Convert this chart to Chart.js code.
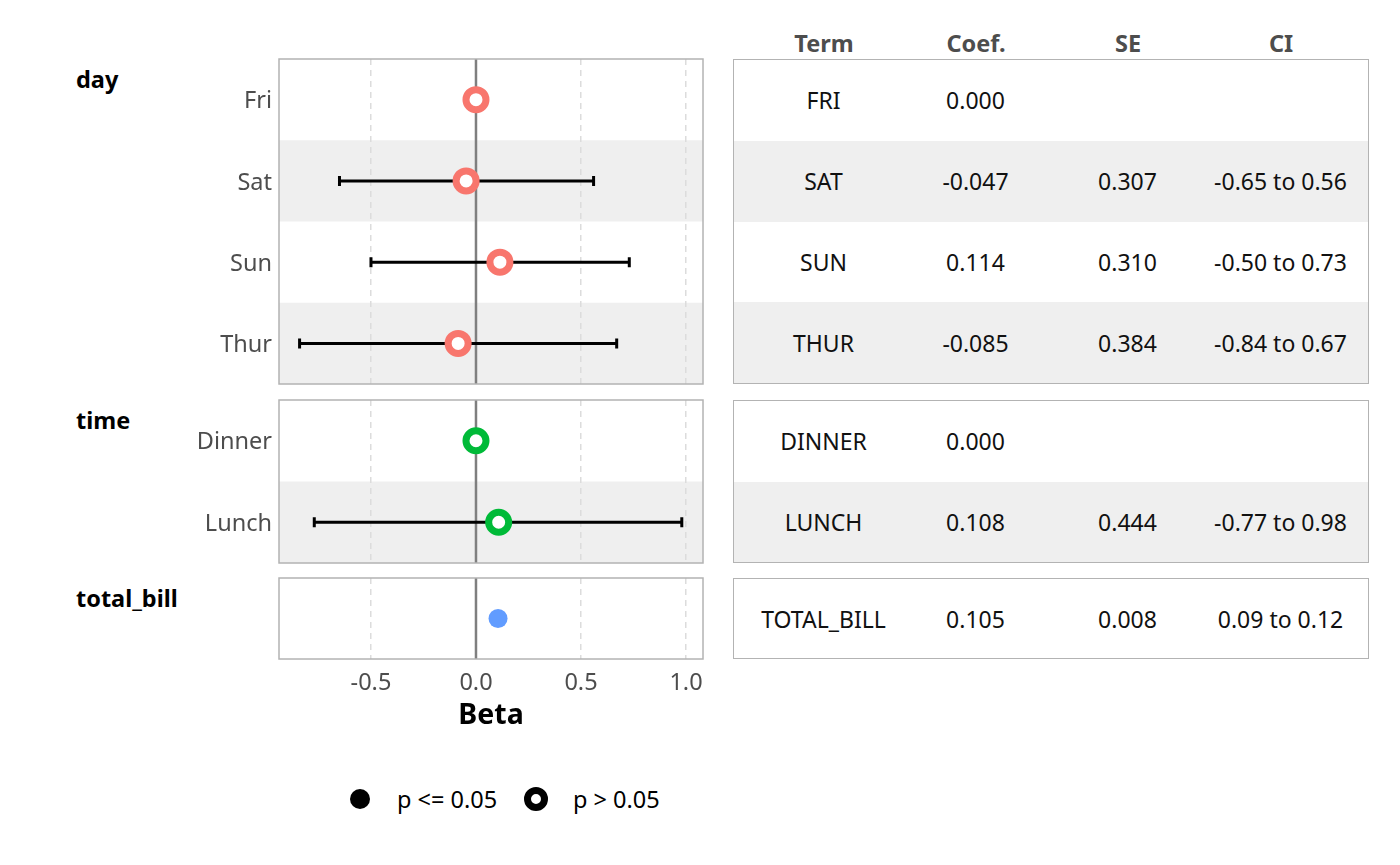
<!DOCTYPE html>
<html>
<head>
<meta charset="utf-8">
<script src="https://cdn.jsdelivr.net/npm/chart.js@4.4.1/dist/chart.umd.min.js"></script>
<style>
  body { margin: 0; background: #fff; font-family: "Noto Sans", sans-serif; }
  #wrap { position: relative; width: 1400px; height: 865px; overflow: hidden; }
  .abs { position: absolute; }
  .grp { font-weight: bold; font-size: 23.5px; line-height: 30px; color: #000; }
  .hdr { font-weight: bold; font-size: 23.5px; line-height: 30px; color: #4d4d4d; transform: translateX(-50%); white-space: nowrap; }
  .box { border: 1.5px solid #b3b3b3; box-sizing: border-box; display: flex; flex-direction: column; }
  .row { flex: 1; position: relative; }
  .row.alt { background: #efefef; }
  .cell { position: absolute; top: 50%; transform: translate(-50%, -50%); font-size: 23px; color: #111; white-space: nowrap; }
  .leg { font-size: 23.5px; line-height: 30px; color: #000; }
</style>
</head>
<body>
<div id="wrap"></div>
<script>
// --- data ---
const dayTerms = ['Fri', 'Sat', 'Sun', 'Thur'];
const dayCoef = [0.000, -0.047, 0.114, -0.085];
const daySE = [null, 0.307, 0.310, 0.384];
const dayLow = [null, -0.65, -0.50, -0.84];
const dayHigh = [null, 0.56, 0.73, 0.67];
const daySig = [false, false, false, false];

const timeTerms = ['Dinner', 'Lunch'];
const timeCoef = [0.000, 0.108];
const timeSE = [null, 0.444];
const timeLow = [null, -0.77];
const timeHigh = [null, 0.98];
const timeSig = [false, false];

const billTerms = ['total_bill'];
const billCoef = [0.105];
const billSE = [0.008];
const billLow = [0.09];
const billHigh = [0.12];
const billSig = [true];

const xTicks = [-0.5, 0.0, 0.5, 1.0];
const xMin = -0.938, xMax = 1.081;

const tableHeaders = ['Term', 'Coef.', 'SE', 'CI'];
const legendLabels = ['p <= 0.05', 'p > 0.05'];

// --- layout ---
const groups = [
  { name: 'day', terms: dayTerms, coef: dayCoef, se: daySE, low: dayLow, high: dayHigh, sig: daySig, color: '#F8766D', top: 59, h: 325, showTerms: true },
  { name: 'time', terms: timeTerms, coef: timeCoef, se: timeSE, low: timeLow, high: timeHigh, sig: timeSig, color: '#00BA38', top: 400, h: 163, showTerms: true },
  { name: 'total_bill', terms: billTerms, coef: billCoef, se: billSE, low: billLow, high: billHigh, sig: billSig, color: '#619CFF', top: 578, h: 81, showTerms: false }
];
const plotLeft = 180, yAxisW = 99, plotRight = 703;
const PAD = 22; // spare room round each plot so label padding never squeezes the area
const colX = [91, 243, 395, 548];
const wrap = document.getElementById('wrap');

function el(cls, css, text) {
  const d = document.createElement('div');
  d.className = cls;
  Object.assign(d.style, css);
  if (text != null) d.textContent = text;
  wrap.appendChild(d);
  return d;
}

function forestPlugin(g) {
  return {
    id: 'forest',
    beforeDraw(chart) {
      const { ctx, chartArea: a, scales: { y } } = chart;
      ctx.save();
      ctx.fillStyle = '#efefef';
      g.terms.forEach((t, i) => {
        if (i % 2 === 1) {
          const y0 = y.getPixelForValue(i - 0.5), y1 = y.getPixelForValue(i + 0.5);
          ctx.fillRect(a.left, Math.min(y0, y1), a.right - a.left, Math.abs(y1 - y0));
        }
      });
      ctx.restore();
    },
    beforeDatasetsDraw(chart) {
      const { ctx, chartArea: a, scales: { x, y } } = chart;
      ctx.save();
      // zero line
      const x0 = x.getPixelForValue(0);
      ctx.strokeStyle = '#7f7f7f';
      ctx.lineWidth = 2.5;
      ctx.beginPath(); ctx.moveTo(x0, a.top); ctx.lineTo(x0, a.bottom); ctx.stroke();
      // error bars
      ctx.strokeStyle = '#000';
      ctx.lineWidth = 3;
      g.terms.forEach((t, i) => {
        if (g.low[i] == null) return;
        const yp = y.getPixelForValue(i);
        const xl = x.getPixelForValue(g.low[i]), xh = x.getPixelForValue(g.high[i]);
        ctx.beginPath();
        ctx.moveTo(xl, yp); ctx.lineTo(xh, yp);
        ctx.moveTo(xl, yp - 5); ctx.lineTo(xl, yp + 5);
        ctx.moveTo(xh, yp - 5); ctx.lineTo(xh, yp + 5);
        ctx.stroke();
      });
      ctx.restore();
    },
    afterDraw(chart) {
      const { ctx, chartArea: a } = chart;
      ctx.save();
      ctx.strokeStyle = '#b3b3b3';
      ctx.lineWidth = 1.5;
      ctx.strokeRect(a.left, a.top, a.right - a.left, a.bottom - a.top);
      ctx.restore();
    }
  };
}

groups.forEach((g, gi) => {
  const last = gi === groups.length - 1;
  const xAxisH = last ? 74 : 0;
  const box = el('abs', {
    left: plotLeft + 'px',
    top: (g.top - PAD) + 'px',
    width: (plotRight - plotLeft + PAD) + 'px',
    height: (PAD + g.h + (last ? xAxisH : PAD)) + 'px'
  });
  const cv = document.createElement('canvas');
  box.appendChild(cv);

  // group label
  el('abs grp', { left: '76px', top: (g.top + 5) + 'px' }, g.name);

  new Chart(cv.getContext('2d'), {
    type: 'scatter',
    data: {
      datasets: [{
        data: g.coef.map((c, i) => ({ x: c, y: i })),
        pointStyle: 'circle',
        pointRadius: g.sig.map(s => s ? 9.5 : 10),
        pointBorderWidth: g.sig.map(s => s ? 0 : 7),
        pointBackgroundColor: g.sig.map(s => s ? g.color : '#ffffff'),
        pointBorderColor: g.color
      }]
    },
    options: {
      responsive: true,
      maintainAspectRatio: false,
      animation: false,
      events: [],
      layout: { padding: { top: PAD, bottom: last ? 0 : PAD, left: 0, right: PAD } },
      plugins: { legend: { display: false }, tooltip: { enabled: false } },
      scales: {
        x: {
          type: 'linear',
          min: xMin,
          max: xMax,
          afterBuildTicks: s => { s.ticks = xTicks.map(v => ({ value: v })); },
          afterFit: s => { s.height = xAxisH; },
          grid: { color: '#dcdcdc', lineWidth: 1.5, drawTicks: false },
          border: { display: false, dash: [6, 5] },
          ticks: {
            display: last,
            padding: 10,
            color: '#4d4d4d',
            font: { family: 'Noto Sans', size: 23.5 },
            callback: v => Number(v).toFixed(1)
          },
          title: {
            display: last,
            text: 'Beta',
            color: '#000',
            padding: { top: 0, bottom: 0 },
            font: { family: 'Noto Sans', size: 28.5, weight: 'bold' }
          }
        },
        y: {
          type: 'category',
          labels: g.showTerms ? g.terms : g.terms.map(() => ''),
          offset: true,
          afterFit: s => { s.width = yAxisW; },
          grid: { display: false, drawTicks: false },
          border: { display: false },
          ticks: { padding: 7, labelOffset: 2, color: '#4d4d4d', font: { family: 'Noto Sans', size: 23.5 } }
        }
      }
    },
    plugins: [forestPlugin(g)]
  });

  // table panel
  const tb = el('abs box', { left: '733px', top: g.top + 'px', width: '636px', height: g.h + 'px' });
  g.terms.forEach((t, i) => {
    const r = document.createElement('div');
    r.className = 'row' + (i % 2 === 1 ? ' alt' : '');
    const vals = [
      t.toUpperCase(),
      g.coef[i].toFixed(3),
      g.se[i] == null ? '' : g.se[i].toFixed(3),
      g.low[i] == null ? '' : g.low[i].toFixed(2) + ' to ' + g.high[i].toFixed(2)
    ];
    vals.forEach((v, c) => {
      const cell = document.createElement('div');
      cell.className = 'cell';
      cell.style.left = (colX[c] - 1.5) + 'px';
      cell.textContent = v;
      r.appendChild(cell);
    });
    tb.appendChild(r);
  });
});

// table header
tableHeaders.forEach((h, c) => {
  el('abs hdr', { left: (733 + colX[c]) + 'px', top: '28px' }, h);
});

// legend
el('abs', { left: '350px', top: '789px', width: '20px', height: '20px', borderRadius: '50%', background: '#000' });
el('abs leg', { left: '397px', top: '784px' }, legendLabels[0]);
el('abs', { left: '524px', top: '787px', width: '24px', height: '24px', borderRadius: '50%', border: '7.5px solid #000', boxSizing: 'border-box', background: '#fff' });
el('abs leg', { left: '573px', top: '784px' }, legendLabels[1]);
</script>
</body>
</html>
